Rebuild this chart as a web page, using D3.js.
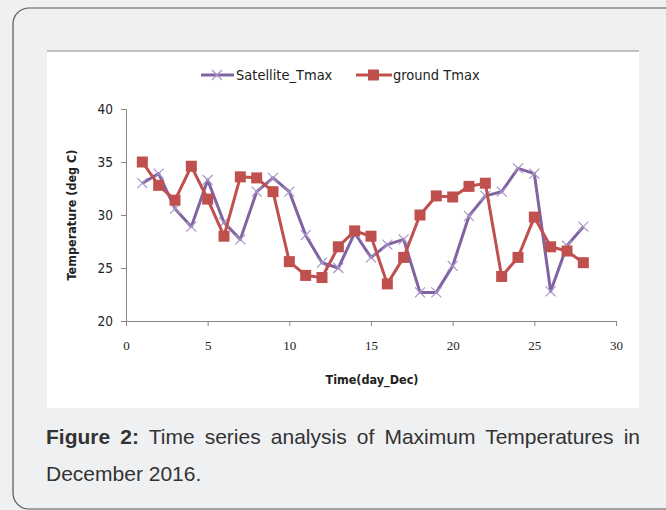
<!DOCTYPE html>
<html>
<head>
<meta charset="utf-8">
<script src="https://cdn.jsdelivr.net/npm/d3@7"></script>
<style>
  body { margin: 0; background: #eff0f2; }
  svg { display: block; }
</style>
</head>
<body>
<svg id="chart" width="666" height="510"></svg>
<script>
// values
var days = [1,2,3,4,5,6,7,8,9,10,11,12,13,14,15,16,17,18,19,20,21,22,23,24,25,26,27,28];
var satelliteTmax = [33.0,33.9,30.6,28.9,33.3,29.3,27.7,32.2,33.5,32.2,28.1,25.5,25.0,28.3,26.0,27.2,27.7,22.7,22.7,25.2,29.9,31.8,32.2,34.4,33.9,22.8,27.1,28.9];
var groundTmax = [35.0,32.8,31.4,34.6,31.5,28.0,33.6,33.5,32.2,25.6,24.3,24.1,27.0,28.5,28.0,23.5,26.0,30.0,31.8,31.7,32.7,33.0,24.2,26.0,29.8,27.0,26.6,25.5];
var xTicks = [0,5,10,15,20,25,30];
var yTicks = [20,25,30,35,40];
var seriesNames = ["Satellite_Tmax", "ground Tmax"];

var purple = "#8064a2", red = "#c0504d";

var svg = d3.select("#chart");

// outer rounded frame
svg.append("rect")
  .attr("x", 13).attr("y", 8)
  .attr("width", 720).attr("height", 501)
  .attr("rx", 16)
  .attr("fill", "#eff0f2")
  .attr("stroke", "#555")
  .attr("stroke-width", 1.2);

// white chart panel
svg.append("rect")
  .attr("x", 47).attr("y", 51)
  .attr("width", 592).attr("height", 357)
  .attr("fill", "#fff");
svg.append("line")
  .attr("x1", 47).attr("x2", 639)
  .attr("y1", 51).attr("y2", 51)
  .attr("stroke", "#888");

var x = d3.scaleLinear().domain([0, 30]).range([126, 616]);
var y = d3.scaleLinear().domain([20, 40]).range([321, 109]);

// axes
var yAxis = svg.append("g")
  .attr("transform", "translate(126,0)")
  .call(d3.axisLeft(y).tickValues(yTicks).tickSize(5).tickPadding(8));
yAxis.selectAll("text")
  .style("font-family", "'DejaVu Sans Condensed', 'DejaVu Sans'")
  .style("font-stretch", "condensed")
  .style("font-size", "13.5px")
  .attr("fill", "#222");

var xAxis = svg.append("g")
  .attr("transform", "translate(0,321)")
  .call(d3.axisBottom(x).tickValues(xTicks).tickSize(5).tickPadding(15));
xAxis.selectAll("text")
  .style("font-family", "'Liberation Serif', 'DejaVu Serif'")
  .style("font-size", "13px")
  .attr("fill", "#222");

svg.selectAll(".domain, .tick line").attr("stroke", "#888");

// axis titles
svg.append("text")
  .attr("transform", "translate(76,215) rotate(-90)")
  .attr("text-anchor", "middle")
  .style("font-family", "'DejaVu Sans Condensed', 'DejaVu Sans'")
  .style("font-stretch", "condensed")
  .style("font-weight", "bold")
  .style("font-size", "12.5px")
  .attr("fill", "#222")
  .text("Temperature (deg C)");

svg.append("text")
  .attr("x", 372).attr("y", 384)
  .attr("text-anchor", "middle")
  .style("font-family", "'DejaVu Sans Condensed', 'DejaVu Sans'")
  .style("font-stretch", "condensed")
  .style("font-weight", "bold")
  .style("font-size", "12.5px")
  .attr("fill", "#222")
  .text("Time(day_Dec)");

// lines
var line = d3.line()
  .x(function(d) { return x(d[0]); })
  .y(function(d) { return y(d[1]); });

var satData = days.map(function(d, i) { return [d, satelliteTmax[i]]; });
var grdData = days.map(function(d, i) { return [d, groundTmax[i]]; });

svg.append("path")
  .datum(satData)
  .attr("d", line)
  .attr("fill", "none")
  .attr("stroke", purple)
  .attr("stroke-width", 3)
  .attr("stroke-linejoin", "round");

svg.selectAll(".xmark")
  .data(satData)
  .enter().append("path")
  .attr("class", "xmark")
  .attr("transform", function(d) { return "translate(" + x(d[0]) + "," + y(d[1]) + ")"; })
  .attr("d", "M-5,-5L5,5M-5,5L5,-5")
  .attr("stroke", "#a895c6")
  .attr("stroke-width", 1.2);

svg.append("path")
  .datum(grdData)
  .attr("d", line)
  .attr("fill", "none")
  .attr("stroke", red)
  .attr("stroke-width", 3)
  .attr("stroke-linejoin", "round");

svg.selectAll(".sq")
  .data(grdData)
  .enter().append("rect")
  .attr("class", "sq")
  .attr("x", function(d) { return x(d[0]) - 5.5; })
  .attr("y", function(d) { return y(d[1]) - 5.5; })
  .attr("width", 11).attr("height", 11)
  .attr("fill", red);

// legend
var legend = svg.append("g").attr("transform", "translate(0,75)");
legend.append("line").attr("x1", 201).attr("x2", 234).attr("stroke", purple).attr("stroke-width", 3);
legend.append("path").attr("d", "M212,-5L222,5M212,5L222,-5").attr("stroke", "#a895c6").attr("stroke-width", 1.2);
legend.append("line").attr("x1", 356).attr("x2", 392).attr("stroke", red).attr("stroke-width", 3);
legend.append("rect").attr("x", 368).attr("y", -5.5).attr("width", 11).attr("height", 11).attr("fill", red);
legend.selectAll(".lt")
  .data(seriesNames)
  .enter().append("text")
  .attr("x", function(d, i) { return i === 0 ? 236 : 393; })
  .attr("y", 5)
  .style("font-family", "'DejaVu Sans Condensed', 'DejaVu Sans'")
  .style("font-stretch", "condensed")
  .style("font-size", "14.5px")
  .attr("fill", "#222")
  .text(function(d) { return d; });

// caption, first line justified by widening the word gaps
var cap1 = svg.append("text")
  .attr("x", 46).attr("y", 444)
  .style("font-family", "'Liberation Sans', Arial, sans-serif")
  .style("font-size", "21px")
  .attr("fill", "#333");
cap1.append("tspan").style("font-weight", "bold").text("Figure 2:");
cap1.append("tspan").text(" Time series analysis of Maximum Temperatures in");
var natural = cap1.node().getComputedTextLength();
var gaps = 8;
cap1.style("word-spacing", Math.max(0, (594 - natural) / gaps) + "px");

svg.append("text")
  .attr("x", 46).attr("y", 481)
  .style("font-family", "'Liberation Sans', Arial, sans-serif")
  .style("font-size", "21px")
  .attr("fill", "#333")
  .text("December 2016.");
</script>
</body>
</html>
